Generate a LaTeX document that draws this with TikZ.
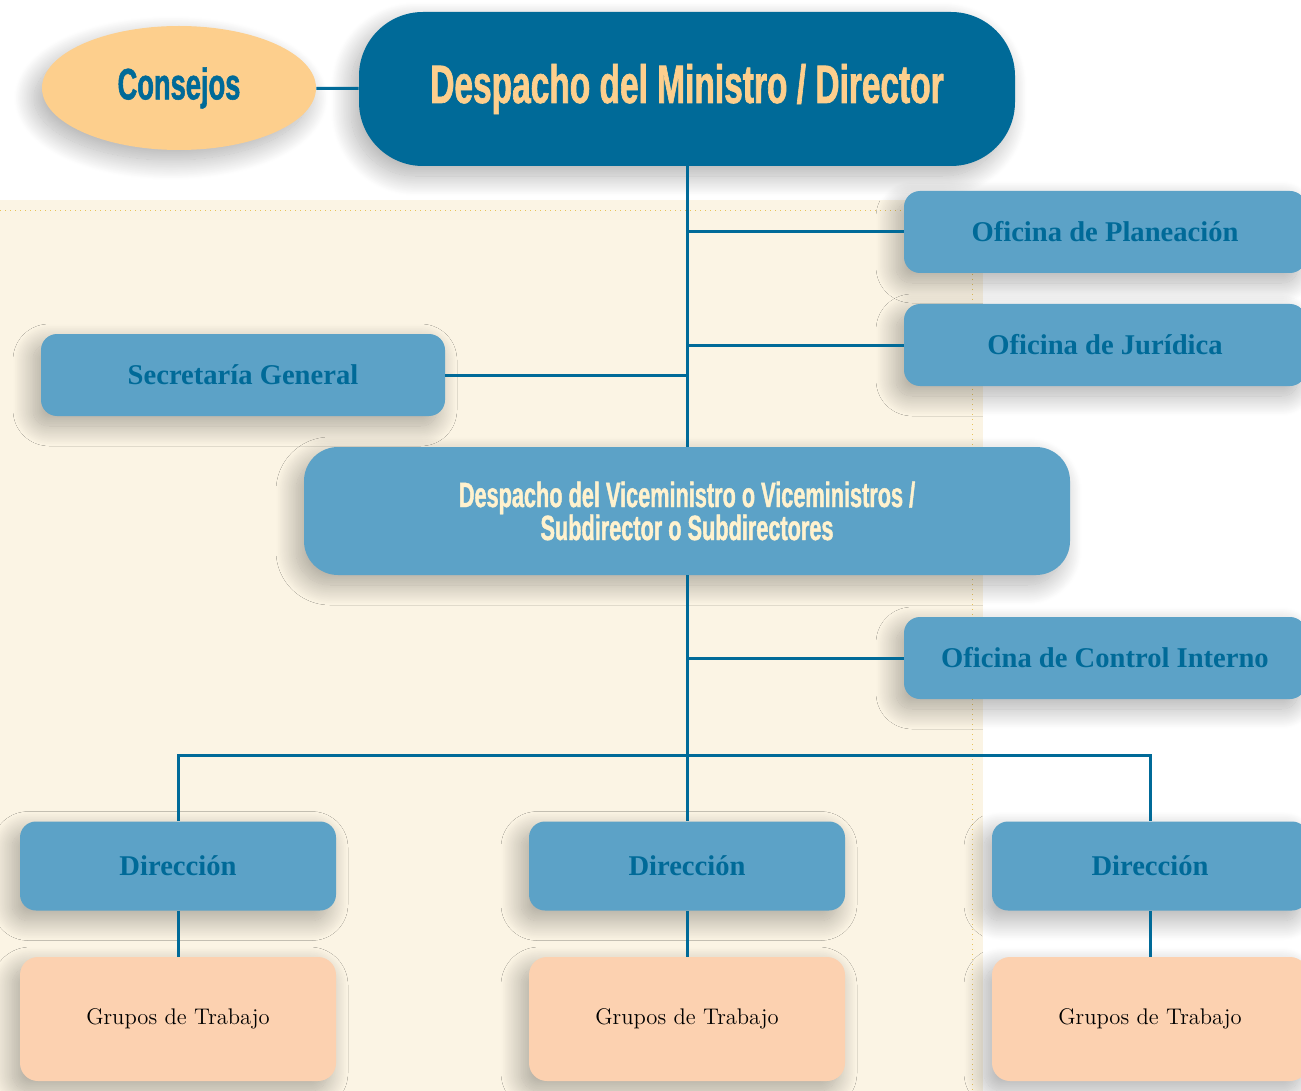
\documentclass[tikz,border=0pt]{standalone}
\usepackage{fontspec}
\usepackage{tikz}
\usetikzlibrary{positioning,shapes.geometric,shadows.blur}
\newfontfamily\headfont[FakeStretch=0.62,FakeBold=1.2]{Liberation Sans}
\newfontfamily\labelfont{Liberation Serif}
\definecolor{deepblue}{HTML}{006A98}
\definecolor{midblue}{HTML}{5CA2C7}
\definecolor{cream}{HTML}{FBF4E4}
\definecolor{sand}{HTML}{FDCF8D}
\definecolor{peach}{HTML}{FCD1B0}
\definecolor{paleyel}{HTML}{FFF2CE}
\definecolor{dotyel}{HTML}{E8C35A}
\tikzset{line/.style={draw=deepblue, line width=1.5pt}}
\tikzset{soft/.style={blur shadow={shadow xshift=-4pt, shadow yshift=-5pt, shadow blur radius=10pt, shadow blur steps=30, shadow opacity=32}}}

\begin{document}
\begin{tikzpicture}[x=0.5pt, y=-0.5pt,
  title/.style = {soft, rounded corners=32pt, fill=deepblue, text=sand, minimum width=328pt, minimum height=77pt, font=\headfont\bfseries\fontsize{27}{32}\selectfont},
  council/.style = {soft, ellipse, fill=sand, text=deepblue, minimum width=137pt, minimum height=62pt, font=\headfont\bfseries\fontsize{22}{26}\selectfont},
  vice/.style = {soft, rounded corners=17pt, fill=midblue, text=paleyel, minimum width=383pt, minimum height=64pt, align=center, font=\headfont\bfseries\fontsize{17.5}{16.5}\selectfont},
  office/.style = {soft, rounded corners=8pt, fill=midblue, text=deepblue, minimum width=201pt, minimum height=41pt, font=\labelfont\bfseries\fontsize{14.3}{16}\selectfont},
  group/.style = {soft, rounded corners=9pt, fill=peach, text=black, minimum width=158pt, minimum height=62pt, font=\fontsize{11.3}{14}\selectfont}]
\useasboundingbox (0,0) rectangle (1301,1091);
\fill[cream] (0,200) rectangle (983,1091);
\draw[dotyel, dotted, line width=0.5pt] (0,211) -- (972,211) -- (972,1091);

\node[title] (m) at (687,89) {Despacho del Ministro / Director};
\node[council] (c) at (179,88) {Consejos};
\node[office] (p) at (1105,232) {Oficina de Planeación};
\node[office] (j) at (1105,345) {Oficina de Jurídica};
\node[office, minimum width=202pt] (s) at (243,375) {Secretaría General};
\node[vice] (v) at (687,511) {Despacho del Viceministro o Viceministros /\\Subdirector o Subdirectores};
\node[office] (ci) at (1105,658) {Oficina de Control Interno};
\foreach \i/\x in {1/178,2/687,3/1150} {
  \node[office, minimum width=158pt, minimum height=44.5pt] (d\i) at (\x,866) {Dirección};
  \node[group] (g\i) at (\x,1019) {Grupos de Trabajo};
  \draw[line] (d\i) -- (g\i);
}
\coordinate (bar) at (687,755);

\draw[line] (c) -- (m);
\draw[line] (m) -- (v);
\draw[line] (p.west) -- (p.west -| m.south);
\draw[line] (j.west) -- (j.west -| m.south);
\draw[line] (s.east) -- (s.east -| m.south);
\draw[line] (v) -- (d2);
\draw[line] (ci.west) -- (ci.west -| v.south);
\draw[line] (d1.north) |- (bar) -| (d3.north);
\end{tikzpicture}
\end{document}
